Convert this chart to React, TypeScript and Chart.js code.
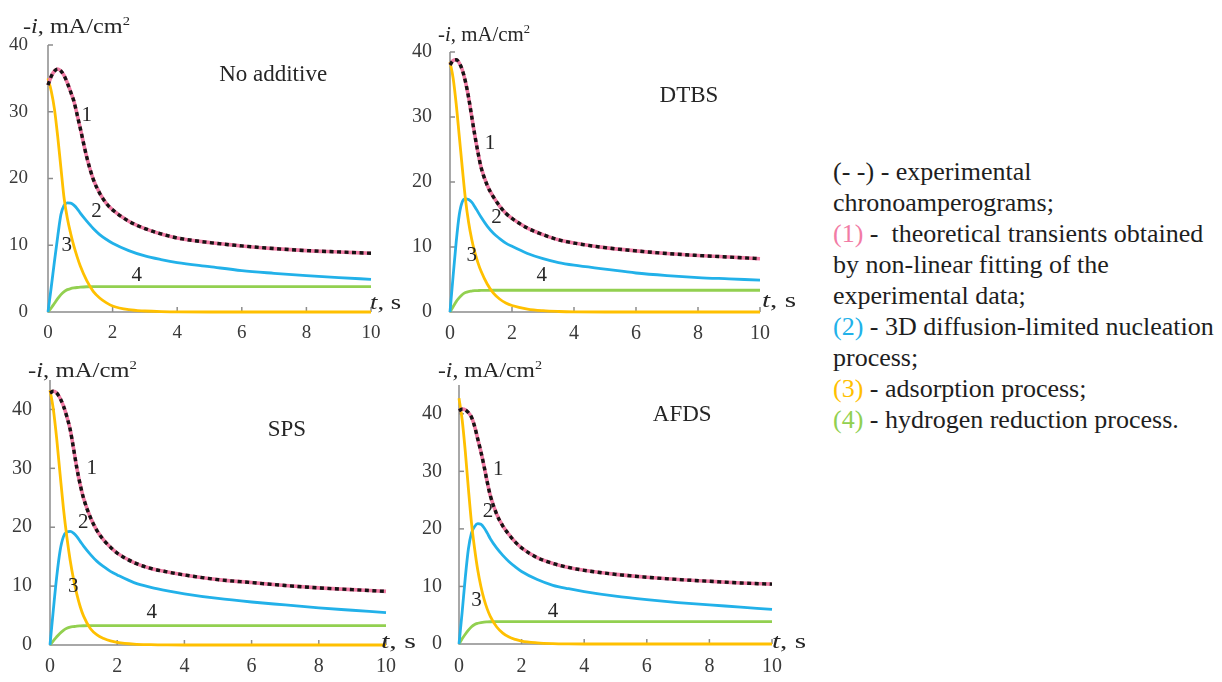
import React, { useEffect, useRef } from "react";
import { Chart, registerables } from "chart.js";

Chart.register(...registerables);

// ---------------- data ----------------
const TIME_S = [0, 0.1, 0.2, 0.3, 0.4, 0.5, 0.6, 0.7, 0.8, 0.9, 1.0, 1.2, 1.4, 1.6, 1.8, 2.0, 2.5, 3, 3.5, 4, 5, 6, 7, 8, 9, 10];
const X_TICK_STEP = 2;
const Y_TICK_STEP = 10;

const NO_ADDITIVE_TOTAL = [34.0, 35.3, 36.1, 36.4, 36.1, 35.4, 34.3, 33.0, 31.6, 29.6, 27.5, 23.2, 19.9, 17.8, 16.3, 15.3, 13.6, 12.5, 11.7, 11.1, 10.4, 9.9, 9.5, 9.2, 9.0, 8.8];
const NO_ADDITIVE_NUCLEATION = [0, 3.7, 7.6, 11.3, 14.6, 16.0, 16.35, 16.3, 16.0, 15.5, 14.8, 13.6, 12.5, 11.6, 10.9, 10.3, 9.2, 8.4, 7.85, 7.4, 6.8, 6.2, 5.8, 5.45, 5.15, 4.9];
const NO_ADDITIVE_ADSORPTION = [35.0, 33.1, 30.4, 26.3, 21.6, 17.0, 14.0, 11.8, 9.9, 8.3, 6.9, 4.7, 3.1, 2.1, 1.4, 0.9, 0.35, 0.15, 0.05, 0.02, 0, 0, 0, 0, 0, 0];
const NO_ADDITIVE_HYDROGEN = [0, 0.6, 1.3, 2.0, 2.6, 3.05, 3.35, 3.5, 3.6, 3.67, 3.72, 3.78, 3.8, 3.8, 3.8, 3.8, 3.8, 3.8, 3.8, 3.8, 3.8, 3.8, 3.8, 3.8, 3.8, 3.8];

const DTBS_TOTAL = [38.0, 38.7, 38.8, 38.3, 37.2, 35.4, 33.0, 30.1, 27.2, 24.6, 22.3, 19.5, 17.7, 16.3, 15.2, 14.4, 12.9, 11.9, 11.1, 10.6, 9.9, 9.4, 9.0, 8.7, 8.45, 8.2];
const DTBS_NUCLEATION = [0, 5.5, 10.8, 15.0, 17.0, 17.4, 17.3, 16.9, 16.2, 15.4, 14.6, 13.2, 12.1, 11.3, 10.6, 10.1, 9.0, 8.2, 7.6, 7.2, 6.6, 6.0, 5.6, 5.3, 5.1, 4.9];
const DTBS_ADSORPTION = [38.5, 36.0, 32.0, 27.0, 22.0, 17.3, 13.8, 11.2, 9.2, 7.6, 6.3, 4.3, 2.9, 2.0, 1.4, 1.0, 0.45, 0.2, 0.08, 0.02, 0, 0, 0, 0, 0, 0];
const DTBS_HYDROGEN = [0, 0.8, 1.6, 2.2, 2.7, 3.0, 3.15, 3.22, 3.28, 3.3, 3.32, 3.34, 3.35, 3.35, 3.35, 3.35, 3.35, 3.35, 3.35, 3.35, 3.35, 3.35, 3.35, 3.35, 3.35, 3.35];

const SPS_TOTAL = [42.8, 43.1, 42.8, 41.9, 40.6, 38.8, 36.6, 33.4, 30.0, 27.2, 24.9, 21.7, 19.4, 17.8, 16.6, 15.6, 14.0, 13.0, 12.4, 11.9, 11.1, 10.6, 10.1, 9.7, 9.4, 9.1];
const SPS_NUCLEATION = [0, 6.0, 11.6, 16.0, 18.4, 19.2, 19.3, 19.0, 18.4, 17.6, 16.8, 15.4, 14.2, 13.3, 12.5, 11.9, 10.6, 9.8, 9.2, 8.7, 7.9, 7.3, 6.8, 6.3, 5.9, 5.5];
const SPS_ADSORPTION = [43.3, 40.0, 35.0, 29.0, 23.2, 18.4, 14.4, 11.2, 8.6, 6.5, 4.9, 2.8, 1.7, 1.1, 0.7, 0.45, 0.15, 0.05, 0.01, 0, 0, 0, 0, 0, 0, 0];
const SPS_HYDROGEN = [0, 0.7, 1.4, 2.0, 2.5, 2.85, 3.05, 3.13, 3.2, 3.24, 3.27, 3.29, 3.3, 3.3, 3.3, 3.3, 3.3, 3.3, 3.3, 3.3, 3.3, 3.3, 3.3, 3.3, 3.3, 3.3];

const AFDS_TOTAL = [40.5, 40.8, 40.7, 40.2, 39.4, 37.8, 35.6, 33.4, 30.9, 28.2, 25.8, 22.6, 20.5, 19.0, 17.7, 16.7, 15.0, 14.0, 13.3, 12.8, 12.1, 11.6, 11.2, 10.9, 10.6, 10.4];
const AFDS_NUCLEATION = [0, 5.5, 11.5, 16.5, 19.3, 20.4, 20.9, 20.8, 20.2, 19.3, 18.3, 16.7, 15.4, 14.3, 13.4, 12.6, 11.2, 10.2, 9.6, 9.1, 8.3, 7.7, 7.2, 6.8, 6.4, 6.0];
const AFDS_ADSORPTION = [42.7, 39.0, 33.5, 27.0, 21.0, 16.5, 12.8, 10.0, 7.8, 6.1, 4.8, 3.0, 1.9, 1.2, 0.8, 0.5, 0.2, 0.07, 0.02, 0, 0, 0, 0, 0, 0, 0];
const AFDS_HYDROGEN = [0, 0.9, 1.7, 2.4, 3.0, 3.4, 3.6, 3.72, 3.8, 3.84, 3.87, 3.89, 3.9, 3.9, 3.9, 3.9, 3.9, 3.9, 3.9, 3.9, 3.9, 3.9, 3.9, 3.9, 3.9, 3.9];

const PANEL_NAMES = ["No additive", "DTBS", "SPS", "AFDS"];
const Y_MAX = [40, 40, 45, 45];
const CURVE_NUMBERS = ["1", "2", "3", "4"];

// ---------------- styles / layout ----------------
const SERIF = '"Liberation Serif", "Times New Roman", Times, serif';
const AXIS_GRAY = "#8c8c8c";
const TEXT = "#262626";
const COL = {
  measured: "#141414",
  fit: "#f27ca5",
  nucleation: "#22b1e9",
  adsorption: "#ffc000",
  hydrogen: "#92d050",
};

type Layout = {
  box: { x: number; y: number; w: number; h: number };
  pad: { left: number; right: number; top: number; bottom: number };
  yW: number;
  xH: number;
  tickFont: number;
  yPad: number;
  xPad: number;
  title: { dx: number; dy: number; w: number };
  tUnit: { dx: number; dy: number; w: number };
  name: [number, number];
  labels: [number, number][];
};

const LAYOUTS: Layout[] = [
  {
    box: { x: 0, y: 0, w: 420, h: 345 },
    pad: { left: 8, right: 49, top: 45, bottom: 0 },
    yW: 40, xH: 33, tickFont: 19, yPad: 20, xPad: 10,
    title: { dx: -25, dy: -12, w: 107 },
    tUnit: { dx: -1, dy: -3, w: 31 },
    name: [6.97, 35.5],
    labels: [[1.2, 29.4], [1.5, 15.0], [0.58, 10.0], [2.75, 5.5]],
  },
  {
    box: { x: 400, y: 0, w: 420, h: 345 },
    pad: { left: 10, right: 60, top: 52, bottom: 0 },
    yW: 40, xH: 33, tickFont: 20, yPad: 18, xPad: 10,
    title: { dx: -12, dy: -11, w: 92 },
    tUnit: { dx: 2, dy: -5, w: 34 },
    name: [7.71, 33.2],
    labels: [[1.29, 25.9], [1.5, 14.6], [0.7, 8.7], [2.96, 5.6]],
  },
  {
    box: { x: 0, y: 345, w: 440, h: 337 },
    pad: { left: 10, right: 54, top: 35, bottom: 0 },
    yW: 40, xH: 37, tickFont: 20, yPad: 18, xPad: 10,
    title: { dx: -22, dy: -3, w: 109 },
    tUnit: { dx: -5, dy: 3, w: 35 },
    name: [7.05, 36.5],
    labels: [[1.24, 30.0], [0.99, 20.8], [0.69, 9.9], [3.03, 5.5]],
  },
  {
    box: { x: 410, y: 345, w: 410, h: 337 },
    pad: { left: 9, right: 48, top: 40, bottom: 0 },
    yW: 40, xH: 38, tickFont: 20, yPad: 17, xPad: 11,
    title: { dx: -21, dy: -8, w: 104 },
    tUnit: { dx: 0, dy: 4, w: 34 },
    name: [7.13, 39.8],
    labels: [[1.25, 30.4], [0.93, 23.0], [0.56, 7.5], [3.0, 5.6]],
  },
];

const SERIES = [
  [NO_ADDITIVE_TOTAL, NO_ADDITIVE_NUCLEATION, NO_ADDITIVE_ADSORPTION, NO_ADDITIVE_HYDROGEN],
  [DTBS_TOTAL, DTBS_NUCLEATION, DTBS_ADSORPTION, DTBS_HYDROGEN],
  [SPS_TOTAL, SPS_NUCLEATION, SPS_ADSORPTION, SPS_HYDROGEN],
  [AFDS_TOTAL, AFDS_NUCLEATION, AFDS_ADSORPTION, AFDS_HYDROGEN],
];

type Seg = { text: string; italic?: boolean; sup?: boolean };

function drawRich(ctx: CanvasRenderingContext2D, segs: Seg[], x: number, baseline: number, size: number, targetW: number) {
  const fontFor = (s: Seg) => `${s.italic ? "italic " : ""}${s.sup ? Math.round(size * 0.62) : size}px ${SERIF}`;
  let total = 0;
  const widths = segs.map((s) => {
    ctx.font = fontFor(s);
    const w = ctx.measureText(s.text).width;
    total += w;
    return w;
  });
  const sx = targetW > 0 ? targetW / total : 1;
  ctx.save();
  ctx.translate(x, baseline);
  ctx.scale(sx, 1);
  ctx.textAlign = "left";
  ctx.textBaseline = "alphabetic";
  ctx.fillStyle = TEXT;
  let cx = 0;
  segs.forEach((s, i) => {
    ctx.font = fontFor(s);
    ctx.fillText(s.text, cx, s.sup ? -size * 0.42 : 0);
    cx += widths[i];
  });
  ctx.restore();
}

function makeOverlay(idx: number) {
  const L = LAYOUTS[idx];
  return {
    id: "overlay" + idx,
    beforeDatasetsDraw(chart: any) {
      const { ctx, chartArea: a, scales } = chart;
      const x = scales.x;
      const y = scales.y;
      ctx.save();
      ctx.strokeStyle = AXIS_GRAY;
      ctx.lineWidth = 1.5;
      ctx.beginPath();
      ctx.moveTo(a.left, a.top);
      ctx.lineTo(a.left, a.bottom);
      ctx.lineTo(a.right, a.bottom);
      ctx.stroke();
      x.ticks.forEach((t: any) => {
        if (t.value === x.min) return;
        const px = x.getPixelForValue(t.value);
        ctx.beginPath();
        ctx.moveTo(px, a.bottom);
        ctx.lineTo(px, a.bottom - 5);
        ctx.stroke();
      });
      y.ticks.forEach((t: any) => {
        if (t.value === y.min) return;
        const py = y.getPixelForValue(t.value);
        ctx.beginPath();
        ctx.moveTo(a.left, py);
        ctx.lineTo(a.left + 5, py);
        ctx.stroke();
      });
      ctx.restore();
    },
    afterDraw(chart: any) {
      const { ctx, chartArea: a, scales } = chart;
      const x = scales.x;
      const y = scales.y;
      ctx.save();
      drawRich(
        ctx,
        [{ text: "-" }, { text: "i", italic: true }, { text: ", mA/cm" }, { text: "2", sup: true }],
        a.left + L.title.dx,
        a.top + L.title.dy,
        20,
        L.title.w
      );
      drawRich(ctx, [{ text: "t", italic: true }, { text: ", s" }], a.right + L.tUnit.dx, a.bottom + L.tUnit.dy, 21, L.tUnit.w);
      ctx.fillStyle = TEXT;
      ctx.textAlign = "center";
      ctx.textBaseline = "middle";
      ctx.font = `23px ${SERIF}`;
      ctx.fillText(PANEL_NAMES[idx], x.getPixelForValue(L.name[0]), y.getPixelForValue(L.name[1]));
      ctx.font = `21px ${SERIF}`;
      L.labels.forEach((p, i) => {
        ctx.fillText(CURVE_NUMBERS[i], x.getPixelForValue(p[0]), y.getPixelForValue(p[1]));
      });
      ctx.restore();
    },
  };
}

const pts = (vals: number[]) => TIME_S.map((t, i) => ({ x: t, y: vals[i] }));

function Panel({ idx }: { idx: number }) {
  const ref = useRef<HTMLCanvasElement>(null);
  const L = LAYOUTS[idx];
  useEffect(() => {
    const [total, nucleation, adsorption, hydrogen] = SERIES[idx];
    const common = {
      pointRadius: 0,
      fill: false,
      cubicInterpolationMode: "monotone",
      clip: false,
      borderJoinStyle: "round",
    };
    const tickFont = { family: SERIF, size: L.tickFont };
    const chart = new Chart(ref.current as HTMLCanvasElement, {
      type: "line",
      data: {
        datasets: [
          { ...common, label: "experimental", data: pts(total), borderColor: COL.measured, borderWidth: 3.4, borderDash: [4, 3.5], order: 0 },
          { ...common, label: "fit (1)", data: pts(total), borderColor: COL.fit, borderWidth: 3.6, order: 1 },
          { ...common, label: "adsorption (3)", data: pts(adsorption), borderColor: COL.adsorption, borderWidth: 2.8, order: 2 },
          { ...common, label: "nucleation (2)", data: pts(nucleation), borderColor: COL.nucleation, borderWidth: 2.8, order: 3 },
          { ...common, label: "hydrogen (4)", data: pts(hydrogen), borderColor: COL.hydrogen, borderWidth: 2.8, order: 4 },
        ] as any,
      },
      options: {
        responsive: false,
        animation: false,
        devicePixelRatio: 1,
        events: [],
        layout: { padding: L.pad, autoPadding: false } as any,
        plugins: { legend: { display: false }, tooltip: { enabled: false }, title: { display: false } },
        scales: {
          x: {
            type: "linear",
            min: 0,
            max: 10,
            grid: { display: false, drawTicks: false },
            border: { display: false },
            ticks: { stepSize: X_TICK_STEP, padding: L.xPad, font: tickFont, color: "#3a3a3a", maxRotation: 0, autoSkip: false },
            afterFit: (s: any) => {
              s.height = L.xH;
            },
          },
          y: {
            type: "linear",
            min: 0,
            max: Y_MAX[idx],
            grid: { display: false, drawTicks: false },
            border: { display: false },
            ticks: { stepSize: Y_TICK_STEP, includeBounds: false, padding: L.yPad, font: tickFont, color: "#3a3a3a" },
            afterFit: (s: any) => {
              s.width = L.yW;
            },
          },
        } as any,
      },
      plugins: [makeOverlay(idx)],
    } as any);
    return () => chart.destroy();
  }, [idx]);
  return (
    <canvas
      ref={ref}
      width={L.box.w}
      height={L.box.h}
      style={{ position: "absolute", left: L.box.x, top: L.box.y, width: L.box.w, height: L.box.h }}
    />
  );
}

const LEGEND_LINES: { mark?: string; color?: string; text: string }[] = [
  { text: "(- -) - experimental" },
  { text: "chronoamperograms;" },
  { mark: "(1)", color: COL.fit, text: " -  theoretical transients obtained" },
  { text: "by non-linear fitting of the" },
  { text: "experimental data;" },
  { mark: "(2)", color: COL.nucleation, text: " - 3D diffusion-limited nucleation" },
  { text: "process;" },
  { mark: "(3)", color: COL.adsorption, text: " - adsorption process;" },
  { mark: "(4)", color: COL.hydrogen, text: " - hydrogen reduction process." },
];

export default function App() {
  return (
    <div style={{ position: "absolute", left: 0, top: 0, width: 1222, height: 682, background: "#ffffff", overflow: "hidden" }}>
      {[0, 1, 2, 3].map((i) => (
        <Panel key={i} idx={i} />
      ))}
      <div
        style={{
          position: "absolute",
          left: 833,
          top: 156,
          fontFamily: SERIF,
          fontSize: 26,
          lineHeight: "31px",
          color: "#1e1e1e",
          whiteSpace: "pre",
        }}
      >
        {LEGEND_LINES.map((l, i) => (
          <div key={i} style={{ height: 31 }}>
            {l.mark ? <span style={{ color: l.color }}>{l.mark}</span> : null}
            {l.text}
          </div>
        ))}
      </div>
    </div>
  );
}
